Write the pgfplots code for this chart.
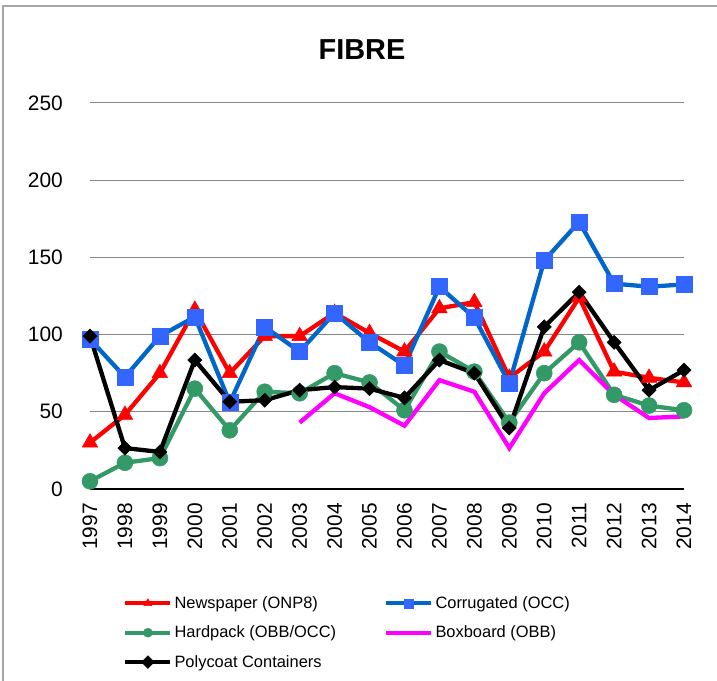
\documentclass[border=0pt]{standalone}
\usepackage{fontspec}
\setmainfont{Liberation Sans}
\usepackage{pgfplots}
\pgfplotsset{compat=1.18}
\definecolor{cred}{HTML}{FF0000}
\definecolor{cblueline}{HTML}{0066CC}
\definecolor{cbluemark}{HTML}{3366FF}
\definecolor{cgreen}{HTML}{339966}
\definecolor{cmag}{HTML}{FF00FF}
\definecolor{cgrid}{HTML}{868686}
\definecolor{cframe}{HTML}{A6A6A6}
\begin{document}
\begin{tikzpicture}[x=1bp,y=1bp]
\useasboundingbox (0,0) rectangle (717,681);
\draw[cframe, line width=1.5bp] (3,0) -- (3,675) -- (717,675);
\node[font=\fontsize{29}{34}\selectfont\bfseries] at (362,631) {FIBRE};
\begin{axis}[
  at={(90bp,192bp)}, anchor=south west, scale only axis,
  width=594bp, height=386bp,
  xmin=1997, xmax=2014, ymin=0, ymax=250,
  clip=false,
  axis x line*=bottom, axis y line*=left,
  x axis line style={black, line width=1.2bp},
  y axis line style={draw=none},
  major tick length=0pt,
  ymajorgrids, grid style={cgrid, line width=1bp},
  xtick={1997,1998,1999,2000,2001,2002,2003,2004,2005,2006,2007,2008,2009,2010,2011,2012,2013,2014},
  xticklabels={1997,1998,1999,2000,2001,2002,2003,2004,2005,2006,2007,2008,2009,2010,2011,2012,2013,2014},
  ytick={0,50,100,150,200,250},
  yticklabels={0,50,100,150,200,250},
  xticklabel style={font=\fontsize{21}{24}\selectfont, rotate=90, anchor=east, inner xsep=14bp, inner ysep=0pt},
  yticklabel style={font=\fontsize{21}{24}\selectfont, anchor=east, inner sep=0pt, xshift=-27bp},
  legend columns=2,
  legend cell align=left,
  legend style={at={(0.0556,-0.273)}, anchor=north west, draw=none, fill=none,
    inner sep=0pt, font=\fontsize{16.5}{19}\selectfont,
    nodes={inner sep=2bp},
    /tikz/every even column/.append style={column sep=46bp},
    row sep=12bp},
  legend image code/.code={\draw[mark repeat=2,mark phase=2,#1] plot coordinates {(0bp,0bp)(22.5bp,0bp)(45bp,0bp)};},
  legend image post style={mark size=4.5bp},
]
\addplot[cred, line width=4.3bp, mark=triangle*, mark size=9bp, mark options={solid, fill=cred, draw=cred, line width=0.5bp}]
coordinates {(1997,30)(1998,48)(1999,75)(2000,116)(2001,75)(2002,99)(2003,99)(2004,114)(2005,101)(2006,89)(2007,117)(2008,121)(2009,72)(2010,89)(2011,124)(2012,76)(2013,72)(2014,69)};
\addlegendentry{Newspaper (ONP8)}
\addplot[cblueline, line width=4.3bp, mark=square*, mark size=8bp, mark options={solid, fill=cbluemark, draw=cbluemark, line width=0.5bp}]
coordinates {(1997,97)(1998,72.5)(1999,99)(2000,111.5)(2001,56)(2002,105)(2003,89)(2004,114)(2005,95)(2006,80)(2007,131)(2008,111)(2009,68.5)(2010,148)(2011,173)(2012,133)(2013,131)(2014,132.5)};
\addlegendentry{Corrugated (OCC)}
\addplot[cgreen, line width=4.3bp, mark=*, mark size=8bp, mark options={solid, fill=cgreen, draw=cgreen, line width=0.5bp}]
coordinates {(1997,5)(1998,17)(1999,20)(2000,65)(2001,38)(2002,63)(2003,62)(2004,75)(2005,69)(2006,51)(2007,89)(2008,76)(2009,43)(2010,75)(2011,95)(2012,61)(2013,54)(2014,51)};
\addlegendentry{Hardpack (OBB/OCC)}
\addplot[cmag, line width=4.3bp, no marks]
coordinates {(2003,43)(2004,62)(2005,53)(2006,41)(2007,70.5)(2008,63)(2009,26.5)(2010,62)(2011,83.5)(2012,61)(2013,46)(2014,47)};
\addlegendentry{Boxboard (OBB)}
\addplot[black, line width=4.3bp, mark=square*, mark size=5bp, mark options={solid, rotate=45, fill=black, draw=black, line width=0.5bp}]
coordinates {(1997,99)(1998,26.5)(1999,24)(2000,83.5)(2001,56.5)(2002,57.5)(2003,64)(2004,66)(2005,65)(2006,59)(2007,83.5)(2008,75)(2009,39.5)(2010,105)(2011,127.5)(2012,95)(2013,64)(2014,77)};
\addlegendentry{Polycoat Containers}
\end{axis}
\end{tikzpicture}
\end{document}
